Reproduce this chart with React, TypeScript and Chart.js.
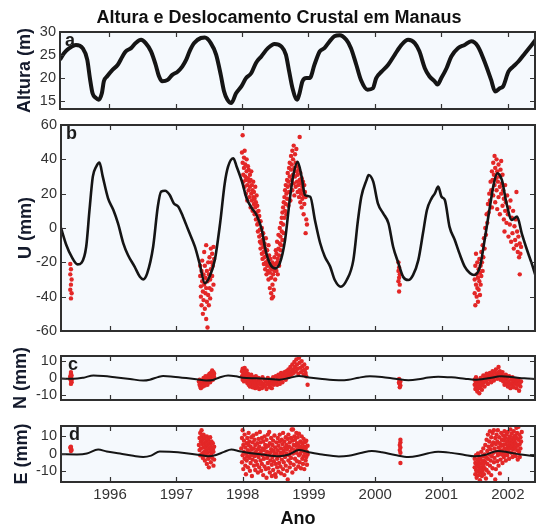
import React, { useEffect, useRef } from "react";
import { Chart, registerables } from "chart.js";

Chart.register(...registerables);

const FONT = "'Liberation Sans', Arial, Helvetica, sans-serif";

// ---- axes / ticks ----
const YEAR_TICKS = [1996, 1997, 1998, 1999, 2000, 2001, 2002];
const X_MIN = 1995.26;
const X_MAX = 2002.41;
const ALT_TICKS = [15, 20, 25, 30];
const U_TICKS = [-60, -40, -20, 0, 20, 40, 60];
const N_TICKS = [-10, 0, 10];
const E_TICKS = [-10, 0, 10];

// ---- panel a: river height (m) ----
const alturaLine: [number, number][] = [
  [1995.26, 24.0], [1995.32, 25.4], [1995.4, 26.5], [1995.5, 27.2], [1995.6, 26.5], [1995.67, 24.0],
  [1995.71, 20.0], [1995.75, 16.7], [1995.8, 15.7], [1995.84, 15.3], [1995.89, 16.7], [1995.92, 19.3],
  [1995.97, 20.4], [1996.05, 21.8], [1996.13, 22.9], [1996.2, 24.7], [1996.25, 25.8], [1996.33, 26.5],
  [1996.4, 27.6], [1996.48, 28.3], [1996.55, 27.6], [1996.63, 25.8], [1996.7, 22.9], [1996.75, 20.4],
  [1996.8, 19.3], [1996.88, 19.6], [1996.95, 20.7], [1997.03, 21.4], [1997.1, 22.5], [1997.16, 24.0],
  [1997.21, 25.8], [1997.28, 27.6], [1997.38, 28.7], [1997.44, 28.8], [1997.53, 27.6], [1997.61, 25.1],
  [1997.68, 20.7], [1997.73, 17.1], [1997.78, 15.3], [1997.84, 14.6], [1997.91, 16.7], [1997.99, 18.2],
  [1998.06, 20.0], [1998.14, 21.1], [1998.21, 23.3], [1998.29, 24.7], [1998.39, 26.5], [1998.49, 27.4],
  [1998.59, 26.9], [1998.66, 25.1], [1998.71, 21.4], [1998.76, 17.8], [1998.83, 15.3], [1998.86, 16.4],
  [1998.91, 19.3], [1998.97, 20.0], [1999.02, 20.0], [1999.09, 22.9], [1999.17, 25.8], [1999.24, 26.5],
  [1999.32, 28.0], [1999.39, 29.1], [1999.47, 29.3], [1999.57, 28.3], [1999.64, 26.5], [1999.72, 22.9],
  [1999.79, 19.6], [1999.89, 17.5], [1999.97, 17.8], [2000.02, 20.0], [2000.1, 21.4], [2000.2, 22.9],
  [2000.3, 25.1], [2000.4, 27.2], [2000.5, 28.3], [2000.6, 27.6], [2000.67, 25.8], [2000.75, 22.2],
  [2000.82, 20.4], [2000.9, 19.3], [2000.94, 18.6], [2001.0, 20.0], [2001.08, 22.2], [2001.15, 24.7],
  [2001.25, 26.5], [2001.35, 27.2], [2001.45, 28.0], [2001.55, 26.9], [2001.65, 23.6], [2001.75, 19.6],
  [2001.81, 17.1], [2001.88, 17.8], [2001.93, 18.2], [2002.01, 21.4], [2002.08, 22.5], [2002.16, 23.6],
  [2002.26, 25.4], [2002.36, 27.2], [2002.42, 28.3],
];

// ---- panel b: vertical displacement U (mm) ----
const uLine: [number, number][] = [
  [1995.26, 0], [1995.34, -9.9], [1995.42, -16.7], [1995.51, -21.2], [1995.57, -20.2], [1995.64, -10.9],
  [1995.69, 10.5], [1995.74, 29.9], [1995.79, 35.7], [1995.84, 38.1], [1995.89, 29.9], [1995.97, 17.3],
  [1996.05, 10.5], [1996.12, 2.7], [1996.2, -8.9], [1996.27, -15.7], [1996.37, -22.5], [1996.45, -28.4],
  [1996.5, -29.9], [1996.56, -26.4], [1996.65, -10.9], [1996.72, 12.4], [1996.77, 21.2], [1996.83, 21.7],
  [1996.9, 19.2], [1996.96, 14.4], [1997.03, 12.4], [1997.1, 6.6], [1997.18, -1.2], [1997.28, -10.9],
  [1997.35, -20.6], [1997.43, -32.2], [1997.5, -28.4], [1997.58, -18.7], [1997.66, 2.7], [1997.73, 26.0],
  [1997.78, 35.7], [1997.86, 40.6], [1997.91, 35.7], [1997.99, 27.0], [1998.06, 17.3], [1998.14, 11.4],
  [1998.21, 7.6], [1998.29, -1.2], [1998.34, -11.9], [1998.41, -20.6], [1998.49, -23.5], [1998.56, -20.6],
  [1998.64, -7.0], [1998.71, 16.3], [1998.76, 29.9], [1998.83, 38.6], [1998.89, 29.9], [1998.94, 19.2],
  [1999.02, 18.2], [1999.09, 4.7], [1999.17, -8.9], [1999.24, -16.7], [1999.32, -22.5], [1999.39, -30.3],
  [1999.48, -34.2], [1999.57, -30.3], [1999.67, -18.7], [1999.74, 4.7], [1999.79, 18.2], [1999.87, 28.0],
  [1999.9, 30.9], [1999.97, 27.0], [2000.04, 14.4], [2000.12, 8.5], [2000.2, 2.7], [2000.27, -10.9],
  [2000.35, -20.6], [2000.42, -28.4], [2000.5, -30.3], [2000.57, -27.4], [2000.65, -18.7], [2000.72, -3.1],
  [2000.78, 10.5], [2000.85, 17.3], [2000.9, 20.2], [2000.95, 24.1], [2001.0, 18.2], [2001.05, 16.3],
  [2001.12, 0.8], [2001.2, -7.0], [2001.27, -14.8], [2001.35, -22.5], [2001.43, -26.4], [2001.49, -27.4],
  [2001.58, -22.5], [2001.65, -7.0], [2001.73, 12.4], [2001.78, 24.1], [2001.84, 31.8], [2001.91, 28.0],
  [2001.98, 14.4], [2002.06, 4.7], [2002.14, 6.6], [2002.21, -3.1], [2002.29, -12.8], [2002.36, -20.6],
  [2002.42, -28],
];

const uPoints: [number, number][] = [
  [1995.4, -21], [1995.41, -24], [1995.4, -27], [1995.42, -30], [1995.41, -33], [1995.4, -36], [1995.42, -38], [1995.41, -41],
  [1997.36, -22], [1997.36, -28], [1997.37, -34], [1997.37, -40], [1997.38, -25], [1997.38, -45], [1997.39, -31], [1997.39, -19],
  [1997.4, -37], [1997.4, -50], [1997.41, -27], [1997.41, -42], [1997.42, -33], [1997.42, -14], [1997.43, -22], [1997.43, -47],
  [1997.44, -38], [1997.44, -29], [1997.45, -53], [1997.45, -35], [1997.46, -25], [1997.46, -43], [1997.47, -58], [1997.47, -31],
  [1997.48, -20], [1997.48, -39], [1997.49, -27], [1997.49, -45], [1997.5, -35], [1997.5, -17], [1997.51, -30], [1997.51, -41],
  [1997.52, -24], [1997.52, -12], [1997.53, -36], [1997.53, -20], [1997.54, -28], [1997.54, -15], [1997.55, -22], [1997.56, -11],
  [1997.56, -33], [1997.57, -18], [1997.45, -10],
  [1998.0, 54], [1997.99, 44], [1998.0, 38], [1998.01, 31], [1998.01, 27], [1998.02, 41], [1998.02, 35], [1998.03, 24],
  [1998.03, 45], [1998.04, 30], [1998.04, 37], [1998.05, 28], [1998.05, 20], [1998.06, 40], [1998.06, 33], [1998.07, 25],
  [1998.07, 16], [1998.08, 36], [1998.08, 29], [1998.09, 22], [1998.09, 34], [1998.1, 27], [1998.1, 18], [1998.11, 31],
  [1998.11, 24], [1998.12, 12], [1998.12, 28], [1998.13, 20], [1998.13, 33], [1998.14, 16], [1998.14, 25], [1998.15, 22],
  [1998.15, 10], [1998.16, 18], [1998.16, 27], [1998.17, 14], [1998.17, 21], [1998.18, 8], [1998.18, 17], [1998.19, 24],
  [1998.19, 12], [1998.2, 5], [1998.2, 15], [1998.21, 19], [1998.21, 9], [1998.22, 2], [1998.22, 13], [1998.23, 6],
  [1998.23, -2], [1998.24, 10], [1998.24, 3], [1998.25, -5], [1998.25, 7], [1998.26, -1], [1998.26, -8], [1998.27, 4],
  [1998.27, -12], [1998.28, -4], [1998.28, -9], [1998.29, -15], [1998.29, 0], [1998.3, -7], [1998.3, -18], [1998.31, -11],
  [1998.31, -3], [1998.32, -14], [1998.32, -21], [1998.33, -9], [1998.33, -17], [1998.34, -24], [1998.34, -12], [1998.35, -20],
  [1998.35, -6], [1998.36, -16], [1998.36, -27], [1998.37, -22], [1998.37, -13], [1998.38, -19], [1998.38, -25], [1998.39, -10],
  [1998.39, -30], [1998.4, -21], [1998.4, -16], [1998.41, -26], [1998.41, -35], [1998.42, -23], [1998.42, -18], [1998.43, -29],
  [1998.43, -38], [1998.44, -24], [1998.44, -41], [1998.45, -20], [1998.45, -33], [1998.46, -27], [1998.46, -40], [1998.47, -22],
  [1998.47, -36], [1998.48, -25], [1998.48, -17], [1998.49, -30], [1998.5, -21], [1998.5, -13],
  [1998.51, -25], [1998.51, -15], [1998.52, -20], [1998.52, -8], [1998.53, -18], [1998.53, -27], [1998.54, -12], [1998.54, -4],
  [1998.55, -16], [1998.55, -22], [1998.56, -9], [1998.56, 0], [1998.57, -13], [1998.57, -5], [1998.58, 3], [1998.58, -10],
  [1998.59, -2], [1998.59, 6], [1998.6, -7], [1998.6, 9], [1998.61, 2], [1998.61, 12], [1998.62, -3], [1998.62, 15],
  [1998.63, 6], [1998.63, 18], [1998.64, 10], [1998.64, 22], [1998.65, 14], [1998.65, 25], [1998.66, 8], [1998.66, 20],
  [1998.67, 28], [1998.67, 17], [1998.68, 24], [1998.68, 32], [1998.69, 13], [1998.69, 27], [1998.7, 35], [1998.7, 21],
  [1998.71, 30], [1998.71, 38], [1998.72, 25], [1998.72, 16], [1998.73, 34], [1998.73, 42], [1998.74, 28], [1998.74, 37],
  [1998.75, 22], [1998.75, 45], [1998.76, 31], [1998.76, 40], [1998.77, 26], [1998.77, 48], [1998.78, 35], [1998.78, 19],
  [1998.79, 43], [1998.79, 30], [1998.8, 38], [1998.8, 24], [1998.81, 33], [1998.81, 46], [1998.82, 27], [1998.82, 36],
  [1998.83, 21], [1998.83, 31], [1998.86, 53], [1998.84, 25], [1998.85, 34], [1998.85, 18], [1998.86, 28], [1998.86, 22],
  [1998.87, 32], [1998.87, 15], [1998.88, 26], [1998.88, 20], [1998.89, 29], [1998.89, 12], [1998.9, 24], [1998.9, 17],
  [1998.91, 22], [1998.91, 27], [1998.92, 19], [1998.92, 8], [1998.93, 25], [1998.93, 14], [1998.94, 21], [1998.95, 18],
  [1998.96, 5], [1998.97, 2], [1998.95, -3],
  [2000.35, -20], [2000.36, -23], [2000.35, -25], [2000.37, -27], [2000.36, -29], [2000.35, -31], [2000.37, -33], [2000.36, -37],
  [2001.5, -30], [2001.5, -38], [2001.51, -22], [2001.51, -45], [2001.52, -33], [2001.52, -15], [2001.53, -27], [2001.53, -40],
  [2001.54, -35], [2001.54, -20], [2001.55, -29], [2001.55, -43], [2001.56, -24], [2001.56, -36], [2001.57, -31], [2001.57, -18],
  [2001.58, -26], [2001.58, -39], [2001.59, -22], [2001.59, -33], [2001.6, -28], [2001.6, -14], [2001.61, -20], [2001.62, -25],
  [2001.62, -10], [2001.63, -17], [2001.64, -6], [2001.65, -12], [2001.66, 0], [2001.67, -4], [2001.68, 8], [2001.69, 3],
  [2001.7, 14], [2001.71, 9], [2001.72, 20], [2001.73, 16], [2001.74, 27], [2001.75, 22], [2001.76, 33], [2001.76, 12],
  [2001.77, 28], [2001.78, 38], [2001.78, 19], [2001.79, 31], [2001.8, 25], [2001.8, 42], [2001.81, 35], [2001.81, 15],
  [2001.82, 29], [2001.83, 40], [2001.83, 22], [2001.84, 33], [2001.84, 11], [2001.85, 27], [2001.86, 37], [2001.86, 18],
  [2001.87, 30], [2001.88, 24], [2001.88, 8], [2001.89, 34], [2001.9, 20], [2001.9, 39], [2001.91, 26], [2001.92, 13],
  [2001.92, 31], [2001.93, 22], [2001.94, 5], [2001.94, 17], [2001.95, -2], [2001.96, 25], [2001.96, 10], [2001.97, 15],
  [2001.98, 3], [2001.99, 19], [2002.0, 8], [2002.01, -5], [2002.02, 12], [2002.03, 2], [2002.04, 16], [2002.05, -8],
  [2002.06, 6], [2002.07, -3], [2002.08, 10], [2002.09, -12], [2002.1, 1], [2002.11, -7], [2002.12, 5], [2002.13, -10],
  [2002.13, 21], [2002.14, -2], [2002.15, -14], [2002.16, -5], [2002.17, -17], [2002.18, -9], [2002.18, -27], [2002.19, -15],
  [2002.2, -11],
];

// ---- panel c: north displacement N (mm) ----
const nLine: [number, number][] = [
  [1995.26, -0.3], [1995.45, -0.5], [1995.6, 0.2], [1995.75, 1.5], [1995.9, 1.2], [1996.1, 0.3], [1996.3, -0.6],
  [1996.5, -1.5], [1996.6, -1.0], [1996.72, 0.5], [1996.8, 1.2], [1996.95, 0.8], [1997.15, 0], [1997.3, -0.7],
  [1997.45, -1.5], [1997.55, -1.2], [1997.65, 0.3], [1997.78, 1.5], [1997.9, 1.0], [1998.0, 0.2], [1998.2, -0.2],
  [1998.4, -0.6], [1998.55, -1.0], [1998.7, 0], [1998.85, 1.2], [1999.0, 0.3], [1999.2, -0.6], [1999.45, -1.3],
  [1999.6, -1.0], [1999.75, 0.2], [1999.92, 1.0], [2000.1, 0.6], [2000.3, -0.4], [2000.5, -1.3], [2000.65, -0.8],
  [2000.8, 0.3], [2000.95, 0.8], [2001.15, 0.4], [2001.35, -0.4], [2001.5, -1.0], [2001.7, -0.2], [2001.9, 1.0],
  [2002.05, 0.6], [2002.25, -0.2], [2002.42, -0.6],
];

const nPoints: [number, number][] = [
  [1995.41, 3.5], [1995.41, 2.5], [1995.42, 1.5], [1995.41, 0.5], [1995.4, -0.5], [1995.41, -1.5], [1995.42, -2.5], [1995.41, -3.5], [1995.4, 1], [1995.42, -1],
  [1997.34, -2], [1997.35, -4], [1997.35, -1], [1997.36, -5], [1997.37, -3], [1997.37, -6], [1997.38, -1.5], [1997.39, -4],
  [1997.4, -2.5], [1997.4, -5], [1997.41, 0], [1997.42, -3], [1997.42, -1], [1997.43, -4.5], [1997.44, -2], [1997.44, 1],
  [1997.45, -3.5], [1997.46, 0], [1997.46, -1.5], [1997.47, -4], [1997.48, 1.5], [1997.48, -2], [1997.49, 0.5], [1997.5, -1],
  [1997.5, 2.5], [1997.51, -2.5], [1997.52, 1], [1997.52, 3], [1997.53, 0], [1997.54, 2], [1997.54, 4.5], [1997.55, -1],
  [1997.56, 1.5], [1997.56, 3.5], [1997.57, 0.5], [1997.57, 2.5],
  [1997.99, 1], [1997.99, 4], [1998.0, -1], [1998.0, 5.5], [1998.01, 2.5], [1998.02, -2], [1998.02, 4], [1998.03, 0.5],
  [1998.03, 6], [1998.04, 3], [1998.05, -1.5], [1998.05, 1.5], [1998.06, 4.5], [1998.07, -3], [1998.07, 0], [1998.08, 2.5],
  [1998.09, -4], [1998.09, -1], [1998.1, 1.5], [1998.11, -2.5], [1998.11, -5], [1998.12, 0], [1998.13, -3.5], [1998.13, 2],
  [1998.14, -1.5], [1998.15, -5.5], [1998.16, -2.5], [1998.16, 0.5], [1998.17, -4], [1998.18, -1], [1998.19, -6], [1998.19, -3],
  [1998.2, 1], [1998.21, -4.5], [1998.22, -2], [1998.23, -5.5], [1998.24, 0], [1998.24, -3], [1998.25, -6.5], [1998.26, -1.5],
  [1998.27, -4], [1998.28, -2.5], [1998.29, -6], [1998.3, 0.5], [1998.31, -3.5], [1998.32, -5], [1998.33, -1], [1998.34, -4.5],
  [1998.35, -2], [1998.36, -6.5], [1998.37, -3], [1998.38, 0], [1998.39, -4], [1998.4, -2], [1998.41, -5.5], [1998.42, -1],
  [1998.43, -3.5], [1998.44, -6], [1998.45, -2.5], [1998.46, 0.5], [1998.47, -4], [1998.48, -1.5], [1998.49, -3], [1998.5, 1],
  [1998.51, -2], [1998.52, -4], [1998.53, 0], [1998.54, 2], [1998.55, -1.5], [1998.56, -3.5], [1998.57, 1], [1998.58, 3],
  [1998.59, -0.5], [1998.6, -2.5], [1998.61, 2], [1998.62, 0], [1998.63, 3.5], [1998.64, 1], [1998.65, -1], [1998.66, 4],
  [1998.67, 2], [1998.68, 0.5], [1998.69, 5], [1998.7, 3], [1998.71, 1], [1998.72, 6.5], [1998.73, 4], [1998.74, 2],
  [1998.75, 8], [1998.76, 5], [1998.77, 3], [1998.78, 9.5], [1998.79, 6.5], [1998.8, 4], [1998.81, 11], [1998.82, 8],
  [1998.83, 5.5], [1998.84, 2.5], [1998.85, 12], [1998.86, 9], [1998.87, 6], [1998.88, 3.5], [1998.89, 10], [1998.9, 7],
  [1998.91, 4.5], [1998.92, 2], [1998.93, 8], [1998.94, 5], [1998.95, 3], [1998.96, 1], [1998.97, 6], [1998.98, -4],
  [2000.36, -0.5], [2000.37, -1.5], [2000.36, -2.5], [2000.37, -3.5], [2000.38, -4.5], [2000.37, -5.5], [2000.36, -3], [2000.38, -2],
  [2001.5, -1], [2001.5, -4], [2001.51, -6.5], [2001.52, -2.5], [2001.52, 0.5], [2001.53, -5], [2001.54, -3], [2001.54, -8],
  [2001.55, -1.5], [2001.56, -6], [2001.56, -4], [2001.57, -9], [2001.58, -2], [2001.58, -5.5], [2001.59, 0], [2001.6, -3.5],
  [2001.61, -7], [2001.62, -1], [2001.62, -4.5], [2001.63, 1.5], [2001.64, -2.5], [2001.65, -5], [2001.66, 0.5], [2001.67, -2],
  [2001.68, 2.5], [2001.69, -0.5], [2001.7, -3.5], [2001.71, 1.5], [2001.72, -1], [2001.73, 3], [2001.74, 0], [2001.75, -2.5],
  [2001.76, 2], [2001.77, 4], [2001.78, 0.5], [2001.79, -1.5], [2001.8, 3.5], [2001.81, 1], [2001.82, 5], [2001.83, 2],
  [2001.84, -0.5], [2001.85, 3], [2001.86, 6.5], [2001.87, 1.5], [2001.88, 4], [2001.89, -1], [2001.9, 2.5], [2001.91, 0],
  [2001.92, 3.5], [2001.93, -2], [2001.94, 1], [2001.95, -4], [2001.96, -1], [2001.97, 2], [2001.98, -3], [2001.99, 0],
  [2002.0, -5], [2002.01, -2], [2002.02, 1], [2002.03, -3.5], [2002.04, -6], [2002.05, -1], [2002.06, -4], [2002.07, 0.5],
  [2002.08, -2.5], [2002.09, -5.5], [2002.1, -1.5], [2002.11, -3.5], [2002.12, -0.5], [2002.13, -6], [2002.14, -2], [2002.15, -4],
  [2002.16, -1], [2002.17, -7.5], [2002.18, -3], [2002.19, -5], [2002.2, -2],
];

// ---- panel d: east displacement E (mm) ----
const eLine: [number, number][] = [
  [1995.26, -0.4], [1995.5, -0.5], [1995.65, 0], [1995.82, 2.3], [1995.95, 1.2], [1996.15, 0], [1996.35, -1.3],
  [1996.5, -2.0], [1996.62, -1.2], [1996.75, 1.2], [1996.9, 1.0], [1997.15, 0.2], [1997.35, -0.8], [1997.48, -1.6],
  [1997.6, -0.8], [1997.72, 1.0], [1997.83, 2.3], [1997.95, 1.4], [1998.1, 0.3], [1998.3, -0.6], [1998.55, -1.5],
  [1998.7, -0.5], [1998.85, 2.0], [1999.0, 0.8], [1999.2, -0.6], [1999.45, -1.7], [1999.6, -1.3], [1999.78, 0.3],
  [1999.95, 1.5], [2000.1, 0.8], [2000.3, -0.8], [2000.5, -2.0], [2000.65, -1.3], [2000.8, 0.2], [2000.95, 1.1],
  [2001.15, 0.4], [2001.35, -0.8], [2001.5, -1.6], [2001.65, -0.8], [2001.85, 1.5], [2002.0, 0.8], [2002.2, -0.6],
  [2002.42, -1.5],
];

const ePoints: [number, number][] = [
  [1995.41, 4], [1995.41, 3], [1995.42, 2], [1995.4, 3.5], [1995.41, 1.5],
  [1997.34, 5], [1997.35, 9], [1997.35, 2], [1997.36, 12], [1997.36, -1], [1997.37, 7], [1997.37, 3], [1997.38, 13.5],
  [1997.38, 10], [1997.39, 0], [1997.39, 5.5], [1997.4, 8], [1997.4, -2.5], [1997.41, 3.5], [1997.41, 11], [1997.42, 6],
  [1997.42, 1], [1997.43, -4], [1997.43, 9], [1997.44, 4], [1997.44, -1], [1997.45, 7], [1997.45, 2], [1997.46, -6],
  [1997.46, 10], [1997.47, 0.5], [1997.47, 5], [1997.48, -3], [1997.48, 8], [1997.49, 3], [1997.49, -8], [1997.5, 6],
  [1997.5, -1.5], [1997.51, 1.5], [1997.51, 9.5], [1997.52, -5], [1997.52, 4], [1997.53, 0], [1997.53, 7], [1997.54, -2.5],
  [1997.55, 2.5], [1997.55, 6], [1997.56, -7], [1997.56, 1], [1997.57, 4], [1997.57, -3.5],
  [1997.98, 3], [1997.99, -5], [1997.99, 9], [1998.0, -1], [1998.0, 13.5], [1998.01, 5], [1998.01, -9], [1998.02, 1],
  [1998.02, 7.5], [1998.03, -3], [1998.03, 11], [1998.04, -7], [1998.04, 3.5], [1998.05, -12], [1998.05, 0], [1998.06, 6],
  [1998.06, -4], [1998.07, 9], [1998.07, -1.5], [1998.08, 2], [1998.08, -8], [1998.09, 5], [1998.09, 12], [1998.1, -2.5],
  [1998.1, 7], [1998.11, -10], [1998.11, 0.5], [1998.12, 4], [1998.12, -5.5], [1998.13, 9.5], [1998.13, -1], [1998.14, 2.5],
  [1998.14, -13], [1998.15, 6.5], [1998.15, -3.5], [1998.16, 0], [1998.16, 10.5], [1998.17, -7], [1998.17, 3], [1998.18, -1.5],
  [1998.18, 8], [1998.19, -9.5], [1998.19, 5], [1998.2, 1], [1998.2, -4.5], [1998.21, 11.5], [1998.21, -0.5], [1998.22, 6],
  [1998.22, -6.5], [1998.23, 2.5], [1998.23, -11], [1998.24, 8.5], [1998.24, -2], [1998.25, 4], [1998.25, -8], [1998.26, 0],
  [1998.26, 12.5], [1998.27, -4], [1998.27, 6.5], [1998.28, -10], [1998.28, 1.5], [1998.29, 9], [1998.29, -6], [1998.3, 3],
  [1998.3, -1], [1998.31, -12.5], [1998.31, 7], [1998.32, -3], [1998.32, 2], [1998.33, 10], [1998.33, -7.5], [1998.34, 5],
  [1998.34, -0.5], [1998.35, -9], [1998.35, 3.5], [1998.36, -14], [1998.36, 8], [1998.37, -2.5], [1998.37, 1], [1998.38, -5.5],
  [1998.38, 11], [1998.39, 4.5], [1998.39, -8.5], [1998.4, 12.5], [1998.4, -1], [1998.41, 6], [1998.41, -11], [1998.42, 0.5],
  [1998.42, -4], [1998.43, 9], [1998.43, 2.5], [1998.44, -6.5], [1998.44, -13], [1998.45, 5], [1998.45, -2], [1998.46, 7.5],
  [1998.46, -9.5], [1998.47, 1.5], [1998.47, -4.5], [1998.48, 10.5], [1998.48, -0.5], [1998.49, -12], [1998.49, 3.5], [1998.5, -6],
  [1998.5, -13.5], [1998.51, 6.5], [1998.51, 0], [1998.52, -8], [1998.52, -3], [1998.53, 9], [1998.53, 2], [1998.54, -10.5],
  [1998.54, 4.5], [1998.55, -1.5], [1998.55, -5.5], [1998.56, 11], [1998.56, 7], [1998.57, -7.5], [1998.57, 0.5], [1998.58, 3],
  [1998.58, -11.5], [1998.59, 8], [1998.59, -3.5], [1998.6, -0.5], [1998.6, 5.5], [1998.61, -9], [1998.61, 12], [1998.62, 1.5],
  [1998.62, -5], [1998.63, 7], [1998.63, -12.5], [1998.64, 3.5], [1998.64, -2], [1998.65, 9.5], [1998.65, -7], [1998.66, 0],
  [1998.66, 5], [1998.67, -10], [1998.67, 2.5], [1998.68, -15], [1998.68, 8.5], [1998.69, -4], [1998.69, 11], [1998.7, -1],
  [1998.7, 4], [1998.71, -8], [1998.71, 6.5], [1998.72, 1], [1998.72, -5.5], [1998.73, 9], [1998.73, -2.5], [1998.74, 14],
  [1998.74, 3], [1998.75, -11], [1998.75, 7.5], [1998.76, 0], [1998.76, 14], [1998.77, 5], [1998.77, -6.5], [1998.78, 10],
  [1998.78, 2], [1998.79, -3], [1998.79, 8], [1998.8, -9], [1998.8, 4.5], [1998.81, 12], [1998.81, 0.5], [1998.82, 6],
  [1998.82, -4.5], [1998.83, 2.5], [1998.83, 9.5], [1998.84, -7.5], [1998.84, 5], [1998.85, -1], [1998.85, 11.5], [1998.86, 3],
  [1998.86, -5], [1998.87, 7], [1998.87, 0], [1998.88, -8.5], [1998.88, 4], [1998.89, 10], [1998.89, 1.5], [1998.9, -3],
  [1998.9, 6], [1998.91, -6], [1998.91, 2.5], [1998.92, 8.5], [1998.92, -1.5], [1998.93, 4], [1998.93, -9], [1998.94, 0.5],
  [1998.94, 6.5], [1998.95, -4], [1998.95, 3], [1998.96, -2], [1998.96, 7.5], [1998.97, 1], [1998.97, -6.5], [1998.98, 4.5],
  [1998.98, -0.5],
  [2000.38, 8], [2000.38, 6.5], [2000.37, 5], [2000.38, 3.5], [2000.37, 2], [2000.38, 0.5], [2000.38, -5.5],
  [2001.5, -3], [2001.5, -8], [2001.51, -5.5], [2001.51, -12], [2001.52, -1], [2001.52, -9.5], [2001.53, -6.5], [2001.53, -14],
  [2001.54, -3.5], [2001.54, -10.5], [2001.55, -7.5], [2001.55, 0], [2001.56, -12.5], [2001.56, -5], [2001.57, -9], [2001.57, -2],
  [2001.58, -15.5], [2001.58, -6], [2001.59, -11], [2001.59, -3.5], [2001.6, -8], [2001.6, 1], [2001.61, -13], [2001.61, -5.5],
  [2001.62, -1.5], [2001.62, -10], [2001.63, -7], [2001.63, 3], [2001.64, -4], [2001.64, -12], [2001.65, -0.5], [2001.65, -8.5],
  [2001.66, 5], [2001.66, -5], [2001.67, -14.5], [2001.67, -2], [2001.68, 8], [2001.68, -9.5], [2001.69, 1.5], [2001.69, -6],
  [2001.7, 11], [2001.7, -3], [2001.71, 4], [2001.71, -11], [2001.72, -0.5], [2001.72, 7], [2001.73, 13], [2001.73, -7],
  [2001.74, 2.5], [2001.74, -4], [2001.75, 9.5], [2001.75, -12.5], [2001.76, 5], [2001.76, -1.5], [2001.77, 12], [2001.77, -8.5],
  [2001.78, 0.5], [2001.78, 6.5], [2001.79, -5], [2001.79, 13.5], [2001.8, 3], [2001.8, -2.5], [2001.81, 9], [2001.81, -15],
  [2001.82, -9], [2001.82, 5.5], [2001.83, 1], [2001.83, 11], [2001.84, -4.5], [2001.84, 7], [2001.85, 13.5], [2001.85, -1],
  [2001.86, 3.5], [2001.86, -7], [2001.87, 9.5], [2001.87, 0], [2001.88, -11.5], [2001.88, 6], [2001.89, 2], [2001.89, -3.5],
  [2001.9, 12], [2001.9, 4.5], [2001.91, -0.5], [2001.91, 8], [2001.92, 1.5], [2001.92, -5.5], [2001.93, 10.5], [2001.93, 5],
  [2001.94, -2], [2001.94, 7.5], [2001.95, 3], [2001.95, 13], [2001.96, 0], [2001.96, 9], [2001.97, 5.5], [2001.97, -4],
  [2001.98, 11], [2001.98, 2.5], [2001.99, 7], [2001.99, -1], [2002.0, 4], [2002.0, 12.5], [2002.01, 8.5], [2002.01, 1],
  [2002.02, 5], [2002.02, -3], [2002.03, 10], [2002.03, 3], [2002.04, 6.5], [2002.04, 14], [2002.05, 0.5], [2002.05, 8],
  [2002.06, 4], [2002.06, 11.5], [2002.07, -2], [2002.07, 6], [2002.08, 9], [2002.08, 2.5], [2002.09, 13], [2002.09, 5],
  [2002.1, 0], [2002.1, 7.5], [2002.11, 10.5], [2002.11, 3.5], [2002.12, -1.5], [2002.12, 6], [2002.13, 15], [2002.13, 9],
  [2002.14, 2], [2002.14, 12], [2002.15, 4.5], [2002.15, -3.5], [2002.16, 8], [2002.16, 15.5], [2002.17, 1], [2002.17, 11],
  [2002.18, 5.5], [2002.18, -2], [2002.19, 9.5], [2002.19, 3], [2002.2, 7], [2002.21, 12.5],
];

type PanelSpec = {
  label: string;
  yTitle: string;
  yMin: number;
  yMax: number;
  yTicks: number[];
  line: [number, number][];
  points: [number, number][] | null;
  lineWidth: number;
  canvasTop: number;
  canvasHeight: number;
  canvasWidth: number;
  axisWidth: number;
  padTop: number;
  padBottom: number;
  padRight: number;
  rightGap: number;
  xHeight: number;
  showX: boolean;
  yTitlePad: number;
  labelDx: number;
  title?: string;
};

const PANELS: PanelSpec[] = [
  {
    label: "a", yTitle: "Altura (m)", yMin: 13.3, yMax: 30, yTicks: ALT_TICKS, line: alturaLine, points: null,
    lineWidth: 4, canvasTop: 0, canvasHeight: 121, canvasWidth: 558, axisWidth: 60, padTop: 0, padBottom: 12,
    padRight: 0, rightGap: 23, xHeight: 0, showX: false, yTitlePad: 14, labelDx: 5,
    title: "Altura e Deslocamento Crustal em Manaus",
  },
  {
    label: "b", yTitle: "U (mm)", yMin: -60, yMax: 60, yTicks: U_TICKS, line: uLine, points: uPoints,
    lineWidth: 2.6, canvasTop: 113, canvasHeight: 230, canvasWidth: 536, axisWidth: 61, padTop: 12, padBottom: 12,
    padRight: 1, rightGap: 0, xHeight: 0, showX: false, yTitlePad: 15, labelDx: 5,
  },
  {
    label: "c", yTitle: "N (mm)", yMin: -13, yMax: 13, yTicks: N_TICKS, line: nLine, points: nPoints,
    lineWidth: 2, canvasTop: 344, canvasHeight: 68, canvasWidth: 536, axisWidth: 61, padTop: 12, padBottom: 12,
    padRight: 1, rightGap: 0, xHeight: 0, showX: false, yTitlePad: 10, labelDx: 7,
  },
  {
    label: "d", yTitle: "E (mm)", yMin: -16.5, yMax: 16, yTicks: E_TICKS, line: eLine, points: ePoints,
    lineWidth: 2, canvasTop: 414, canvasHeight: 116, canvasWidth: 536, axisWidth: 61, padTop: 12, padBottom: 0,
    padRight: 1, rightGap: 0, xHeight: 48, showX: true, yTitlePad: 11.5, labelDx: 8,
  },
];

const bgPlugin = {
  id: "plotBg",
  beforeDraw(chart: any) {
    const { ctx, chartArea } = chart;
    if (!chartArea) return;
    ctx.save();
    ctx.fillStyle = "#f5f9fd";
    ctx.fillRect(chartArea.left, chartArea.top, chartArea.right - chartArea.left, chartArea.bottom - chartArea.top);
    ctx.restore();
  },
};

function makeFramePlugin(spec: PanelSpec) {
  return {
    id: "frame_" + spec.label,
    afterDraw(chart: any) {
      const { ctx, chartArea } = chart;
      const { left, right, top, bottom } = chartArea;
      const xs = chart.scales.x;
      const ys = chart.scales.y;
      ctx.save();
      ctx.strokeStyle = "#333";
      ctx.lineWidth = 1.2;
      ctx.beginPath();
      xs.ticks.forEach((t: any) => {
        const px = Math.round(xs.getPixelForValue(t.value)) + 0.5;
        ctx.moveTo(px, bottom);
        ctx.lineTo(px, bottom - 5);
        ctx.moveTo(px, top);
        ctx.lineTo(px, top + 5);
      });
      ys.ticks.forEach((t: any) => {
        const py = Math.round(ys.getPixelForValue(t.value)) + 0.5;
        ctx.moveTo(left, py);
        ctx.lineTo(left + 5, py);
        ctx.moveTo(right, py);
        ctx.lineTo(right - 5, py);
      });
      ctx.stroke();
      ctx.lineWidth = 2;
      ctx.strokeStyle = "#2f2f2f";
      ctx.strokeRect(left, top, right - left, bottom - top);
      ctx.font = `bold 18px ${FONT}`;
      ctx.fillStyle = "#1a1a1a";
      ctx.textBaseline = "alphabetic";
      ctx.textAlign = "left";
      ctx.fillText(spec.label, left + spec.labelDx, top + 14);
      ctx.restore();
    },
  };
}

function buildConfig(spec: PanelSpec): any {
  const datasets: any[] = [
    {
      label: spec.yTitle + " modelo",
      data: spec.line.map(([x, y]) => ({ x, y })),
      showLine: true,
      borderColor: "#151515",
      backgroundColor: "#151515",
      borderWidth: spec.lineWidth,
      pointRadius: 0,
      cubicInterpolationMode: "monotone",
      fill: false,
    },
  ];
  if (spec.points) {
    datasets.push({
      label: spec.yTitle + " GPS",
      data: spec.points.map(([x, y]) => ({ x, y })),
      showLine: false,
      backgroundColor: "#e32727",
      borderWidth: 0,
      pointRadius: 2.2,
    });
  }
  const scales: any = {
    x: {
      type: "linear",
      position: "bottom",
      min: X_MIN,
      max: X_MAX,
      afterBuildTicks: (s: any) => {
        s.ticks = YEAR_TICKS.map((v) => ({ value: v }));
      },
      afterFit: (s: any) => {
        s.height = spec.xHeight;
        s.paddingLeft = 0;
        s.paddingRight = 0;
      },
      grid: { display: false, drawTicks: false },
      border: { display: false },
      ticks: {
        display: spec.showX,
        autoSkip: false,
        maxRotation: 0,
        padding: 4,
        color: "#333",
        font: { family: FONT, size: 15 },
        callback: (v: any) => String(v),
      },
      title: {
        display: spec.showX,
        text: "Ano",
        color: "#111",
        font: { family: FONT, size: 18, weight: "bold" },
        padding: { top: 0, bottom: 0 },
      },
    },
    y: {
      type: "linear",
      position: "left",
      min: spec.yMin,
      max: spec.yMax,
      afterBuildTicks: (s: any) => {
        s.ticks = spec.yTicks.map((v) => ({ value: v }));
      },
      afterFit: (s: any) => {
        s.width = spec.axisWidth;
        s.paddingTop = 0;
        s.paddingBottom = 0;
      },
      grid: { display: false, drawTicks: false },
      border: { display: false },
      ticks: {
        autoSkip: false,
        padding: 4,
        color: "#333",
        font: { family: FONT, size: 14.5 },
        callback: (v: any) => String(v),
      },
      title: {
        display: true,
        text: spec.yTitle,
        color: "#141a2c",
        font: { family: FONT, size: 18, weight: "bold" },
        padding: { top: spec.yTitlePad, bottom: 0 },
      },
    },
  };
  if (spec.rightGap > 0) {
    // empty spacer axis on the right so the title is centred over the whole figure
    scales.gap = {
      type: "linear",
      position: "right",
      display: true,
      grid: { display: false, drawTicks: false },
      border: { display: false },
      ticks: { display: false },
      afterFit: (s: any) => {
        s.width = spec.rightGap;
        s.paddingTop = 0;
        s.paddingBottom = 0;
      },
    };
  }
  return {
    type: "scatter",
    data: { datasets },
    options: {
      responsive: false,
      maintainAspectRatio: false,
      animation: false,
      devicePixelRatio: 1,
      events: [],
      layout: {
        autoPadding: false,
        padding: { left: 0, right: spec.padRight, top: spec.padTop, bottom: spec.padBottom },
      },
      plugins: {
        legend: { display: false },
        tooltip: { enabled: false },
        title: {
          display: !!spec.title,
          text: spec.title || "",
          color: "#111",
          font: { family: FONT, size: 18, weight: "bold" },
          padding: { top: 7.5, bottom: 2.9 },
        },
      },
      scales,
    },
    plugins: [bgPlugin, makeFramePlugin(spec)],
  };
}

function Panel({ spec }: { spec: PanelSpec }) {
  const ref = useRef<HTMLCanvasElement | null>(null);
  useEffect(() => {
    if (!ref.current) return;
    const chart = new Chart(ref.current, buildConfig(spec));
    return () => chart.destroy();
  }, [spec]);
  return (
    <canvas
      ref={ref}
      width={spec.canvasWidth}
      height={spec.canvasHeight}
      style={{
        position: "absolute",
        left: 0,
        top: spec.canvasTop,
        width: spec.canvasWidth,
        height: spec.canvasHeight,
        display: "block",
      }}
    />
  );
}

export default function App() {
  return (
    <div
      style={{
        position: "fixed",
        left: 0,
        top: 0,
        width: 536,
        height: 526,
        overflow: "hidden",
        background: "#ffffff",
      }}
    >
      {PANELS.map((p) => (
        <Panel key={p.label} spec={p} />
      ))}
    </div>
  );
}
